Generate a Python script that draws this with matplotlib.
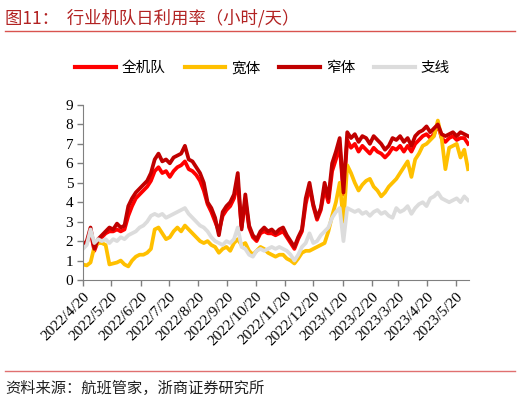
import numpy as np
import pandas as pd
import matplotlib
matplotlib.use("Agg")
import matplotlib.pyplot as plt

plt.rcParams['font.family'] = ['Liberation Serif', 'Noto Sans CJK SC', 'DejaVu Sans']

# 数据：每4天一个点，从2022/4/20开始
start = '2022-04-20'
n_pts = 103

quanjidui = [1.7, 1.9, 2.5, 1.5, 2.0, 2.2, 2.4, 2.5, 2.5, 2.6, 2.5, 2.6, 3.3, 3.8, 4.2, 4.4,
             4.6, 4.8, 5.1, 5.6, 5.8, 5.5, 5.6, 5.3, 5.6, 5.8, 5.9, 6.1, 5.7, 5.6, 5.4, 5.1,
             4.6, 3.9, 3.5, 3.0, 2.5, 3.3, 3.6, 3.8, 4.2, 5.0, 2.7, 4.1, 2.7, 2.2, 2.0, 2.4,
             2.5, 2.4, 2.4, 2.3, 2.4, 2.5, 2.2, 1.9, 1.6, 2.1, 2.5, 3.9, 4.8, 3.8, 3.1, 3.6,
             4.7, 4.0, 5.6, 6.2, 6.9, 4.4, 7.2, 6.8, 7.0, 6.6, 6.9, 6.7, 6.5, 6.8, 6.6, 6.5,
             6.3, 6.5, 6.8, 6.7, 6.9, 6.6, 6.9, 6.6, 7.0, 7.2, 7.4, 7.5, 7.3, 7.5, 8.0, 7.3,
             7.1, 7.3, 7.4, 7.2, 7.3, 7.3, 7.0]

kuanti = [0.8, 0.75, 0.9, 1.7, 1.9, 1.9, 1.8, 0.8, 0.85, 0.9, 1.0, 0.8, 0.7, 1.0, 1.2, 1.3,
          1.3, 1.4, 1.6, 2.6, 2.7, 2.4, 2.1, 2.2, 2.5, 2.7, 2.5, 2.8, 2.6, 2.4, 2.2, 2.0,
          1.9, 2.0, 1.8, 1.7, 1.4, 1.6, 1.7, 1.5, 1.9, 2.1, 1.8, 1.9, 1.5, 1.3, 1.5, 1.7,
          1.6, 1.4, 1.3, 1.2, 1.3, 1.3, 1.1, 1.0, 0.85, 1.1, 1.4, 1.5, 1.5, 1.6, 1.7, 1.8,
          1.9, 2.5, 3.3, 4.0, 5.0, 3.0, 5.9, 5.5, 5.0, 4.6, 4.9, 5.1, 5.2, 4.8, 4.6, 4.3,
          4.5, 4.8, 5.0, 5.2, 5.5, 5.8, 6.1, 5.3, 6.2, 6.5, 6.9, 7.0, 7.2, 7.4, 8.2, 7.3,
          5.7, 6.8, 6.9, 7.0, 6.3, 6.7, 5.7]

zhaiti = [1.8, 2.0, 2.7, 1.6, 2.1, 2.3, 2.5, 2.7, 2.6, 2.9, 2.7, 2.8, 3.8, 4.2, 4.5, 4.7,
          4.9, 5.1, 5.5, 6.2, 6.5, 6.1, 6.2, 6.0, 6.3, 6.4, 6.5, 6.9, 6.2, 6.1, 5.8, 5.5,
          5.0, 4.0, 3.7, 3.2, 2.3, 3.5, 3.8, 4.0, 4.4, 5.5, 2.6, 4.4, 2.8, 2.3, 2.1, 2.5,
          2.7, 2.5, 2.6, 2.4, 2.6, 2.7, 2.3, 2.0, 1.7, 2.2, 2.6, 4.2, 5.0, 3.9, 3.2, 3.7,
          5.0, 4.2, 6.0, 6.6, 7.3, 4.5, 7.6, 7.3, 7.5, 7.1, 7.4, 7.3, 7.0, 7.4, 7.2, 7.0,
          6.7, 6.9, 7.3, 7.2, 7.4, 7.1, 7.3, 6.9, 7.4, 7.6, 7.7, 7.9, 7.6, 7.8, 8.0, 7.5,
          7.4, 7.5, 7.6, 7.4, 7.6, 7.5, 7.4]

zhixian = [1.6, 1.8, 2.6, 1.9, 2.1, 2.0, 2.1, 1.9, 2.1, 2.0, 2.2, 2.1, 2.3, 2.4, 2.5, 2.7,
           2.8, 3.0, 3.3, 3.4, 3.3, 3.4, 3.2, 3.3, 3.4, 3.5, 3.6, 3.7, 3.4, 3.2, 3.0, 2.8,
           2.7, 2.5, 2.2, 2.0, 1.9, 1.8, 2.0, 1.9, 2.1, 2.7, 1.7, 1.6, 1.3, 1.2, 1.5, 1.6,
           1.5, 1.6, 1.7, 1.6, 1.7, 1.6, 1.5, 1.3, 1.0, 1.3, 1.7, 1.9, 2.4, 1.9, 2.0, 2.3,
           2.5, 2.7, 3.2, 3.5, 3.7, 2.0, 3.7, 3.6, 3.5, 3.6, 3.4, 3.5, 3.3, 3.5, 3.6, 3.4,
           3.5, 3.3, 3.2, 3.7, 3.5, 3.6, 3.8, 3.4, 3.7, 3.9, 4.0, 3.8, 4.2, 4.3, 4.5, 4.2,
           4.1, 4.0, 4.1, 4.2, 4.0, 4.3, 4.1]

series_names = ['全机队', '宽体', '窄体', '支线']
colors = ['#FF0000', '#FFC000', '#C00000', '#DCDCDC']

dates = pd.date_range(start, periods=n_pts, freq='4D')
tick_dates = pd.date_range('2022-04-01', '2023-05-20', freq='MS') + pd.Timedelta(days=19)
tick_labels = [f'{d.year}/{d.month}/{d.day}' for d in tick_dates]

fig = plt.figure(figsize=(5.2, 4.03), dpi=100)
ax = fig.add_axes([0.1596, 0.3052, 0.7423, 0.4343])

for name, vals, c in zip(series_names, [quanjidui, kuanti, zhaiti, zhixian], colors):
    ax.plot(dates, vals, color=c, lw=2.7, label=name, solid_joinstyle='round')

ax.set_ylim(0, 9)
ax.set_yticks(range(0, 10))
ax.set_xlim(pd.Timestamp('2022-04-20'), pd.Timestamp('2023-06-03'))
ax.set_xticks(tick_dates)
ax.set_xticklabels(tick_labels, rotation=45, ha='right', rotation_mode='anchor')
ax.tick_params(axis='both', labelsize=11, color='#808080', length=4, width=1, pad=3)
for s in ['top', 'right']:
    ax.spines[s].set_visible(False)
for s in ['left', 'bottom']:
    ax.spines[s].set_color('#808080')

leg = fig.legend(loc='center', bbox_to_anchor=(0.505, 0.831), ncol=4, frameon=False,
                 handlelength=2.8, columnspacing=1.3, handletextpad=0.4,
                 prop={'family': ['Noto Sans CJK SC'], 'size': 10.5})
for line in leg.get_lines():
    line.set_linewidth(3)

fig.text(0.01, 0.955, '图11：  行业机队日利用率（小时/天）', color='#B22222', fontsize=12.5,
         family=['Noto Sans CJK SC'], va='center')
fig.add_artist(plt.Line2D([0.01, 0.99], [0.922, 0.922], color='#D9534F', lw=1))
fig.add_artist(plt.Line2D([0.01, 0.99], [0.079, 0.079], color='#E07070', lw=1))
fig.text(0.01, 0.035, '资料来源：航班管家，浙商证券研究所', color='#222222', fontsize=11,
         family=['Noto Sans CJK SC'], va='center')

fig.savefig('out.png', dpi=100)
